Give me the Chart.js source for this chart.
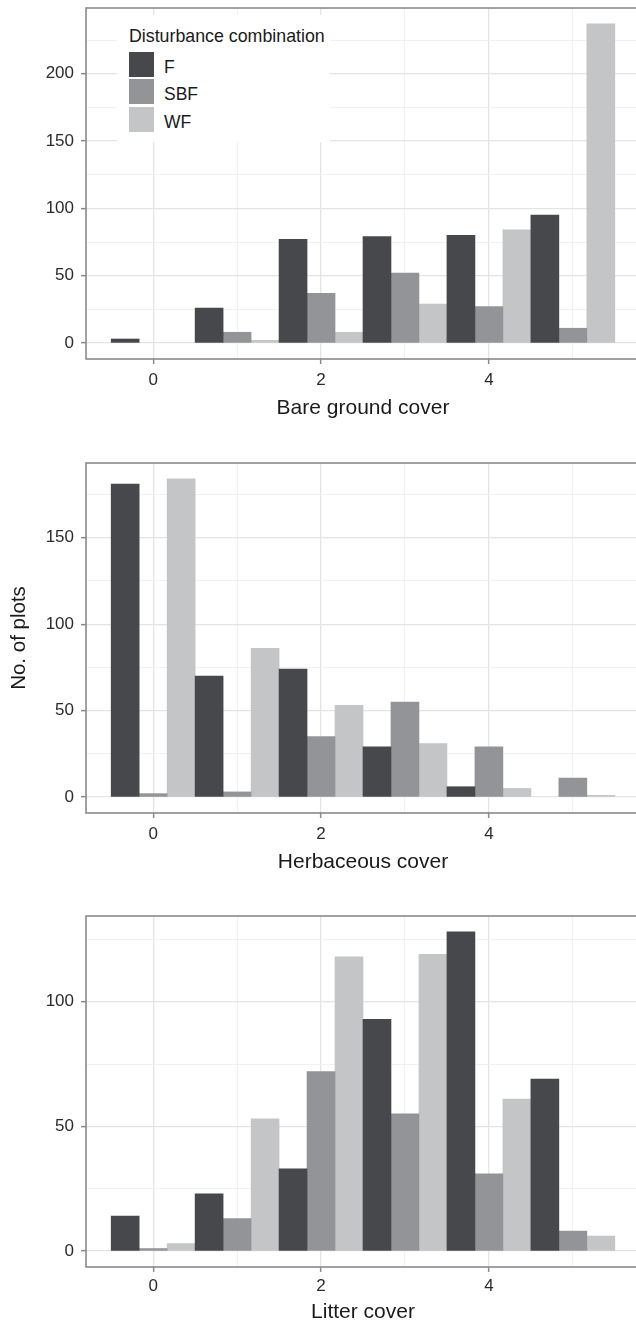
<!DOCTYPE html>
<html>
<head>
<meta charset="utf-8">
<script src="https://cdn.jsdelivr.net/npm/chart.js@4.4.1/dist/chart.umd.min.js"></script>
<style>
  html, body { margin:0; padding:0; background:#fff; width:636px; height:1326px; overflow:hidden; position:relative;
    font-family:"Liberation Sans", Arial, Helvetica, sans-serif; }
  canvas.panel { position:absolute; left:0; }
  #legend { position:absolute; left:117px; top:15px; width:213px; height:127px; background:#fff; }
  #legend .t { position:absolute; left:12px; top:12.6px; font-size:17.8px; line-height:17.8px; color:#1a1a1a; white-space:nowrap; }
  #legend .k { position:absolute; left:12px; width:25px; height:25px; }
  #legend .l { position:absolute; left:47px; font-size:17.5px; line-height:17.5px; color:#1a1a1a; white-space:nowrap; }
</style>
</head>
<body>
<canvas id="c1" class="panel" width="660" height="421" style="top:0px"></canvas>
<canvas id="c2" class="panel" width="660" height="420" style="top:455px"></canvas>
<canvas id="c3" class="panel" width="660" height="417" style="top:908px"></canvas>
<div id="legend"></div>
<script>
// ---------- data ----------
const bins = [0, 1, 2, 3, 4, 5];
const seriesNames = ['F', 'SBF', 'WF'];
const seriesColors = ['#47484b', '#939497', '#c4c5c7'];
const legendTitle = 'Disturbance combination';

const bareF   = [3, 26, 77, 79, 80, 95];
const bareSBF = [0, 8, 37, 52, 27, 11];
const bareWF  = [0, 2, 8, 29, 84, 237];

const herbF   = [181, 70, 74, 29, 6, 0];
const herbSBF = [2, 3, 35, 55, 29, 11];
const herbWF  = [184, 86, 53, 31, 5, 1];

const litterF   = [14, 23, 33, 93, 128, 69];
const litterSBF = [1, 13, 72, 55, 31, 8];
const litterWF  = [3, 53, 118, 119, 61, 6];

const xTickValues = [0, 2, 4];
const bareYTicks   = [0, 50, 100, 150, 200];
const herbYTicks   = [0, 50, 100, 150];
const litterYTicks = [0, 50, 100];

const yTitle = 'No. of plots';
const xTitles = ['Bare ground cover', 'Herbaceous cover', 'Litter cover'];

// ---------- styling ----------
const FONT = '"Liberation Sans", Arial, Helvetica, sans-serif';
const majorGrid = '#e4e4e4', minorGrid = '#efefef', borderCol = '#8a8a8a';

const panelBorder = {
  id: 'panelBorder',
  afterDatasetsDraw(chart) {
    const { ctx, chartArea: a } = chart;
    ctx.save();
    ctx.strokeStyle = borderCol;
    ctx.lineWidth = 1.6;
    ctx.strokeRect(a.left, a.top, a.right - a.left, a.bottom - a.top);
    ctx.restore();
  }
};

function makeChart(id, xTitle, series, yTicks, opt) {
  const maxV = Math.max(...series.flat());
  const yMin = -0.05 * maxV, yMax = 1.05 * maxV;
  const step = yTicks[1] - yTicks[0];
  const yAll = [];
  for (let v = yTicks[0]; v <= yMax; v += step / 2) yAll.push(v);
  const xAll = bins.slice();
  const xMin = bins[0] - 0.8, xMax = bins[bins.length - 1] + 0.8;

  return new Chart(document.getElementById(id), {
    type: 'bar',
    data: {
      labels: bins,
      datasets: series.map((d, i) => ({
        label: seriesNames[i],
        data: d,
        backgroundColor: seriesColors[i],
        borderWidth: 0,
        inflateAmount: c => (c.raw === 0 ? 0 : 'auto'),
        categoryPercentage: 1,
        barPercentage: 1
      }))
    },
    options: {
      responsive: false,
      animation: false,
      devicePixelRatio: 1,
      layout: { padding: { top: 8, right: 20, left: 0, bottom: 0 } },
      plugins: { legend: { display: false }, tooltip: { enabled: false } },
      scales: {
        x: {
          type: 'linear', min: xMin, max: xMax, offset: false,
          afterBuildTicks: s => { s.ticks = xAll.map(v => ({ value: v })); },
          afterFit: s => { s.height = opt.xH; s.paddingLeft = 0; s.paddingRight = 0; },
          grid: {
            offset: false,
            color: c => xTickValues.includes(c.tick && c.tick.value) ? majorGrid : minorGrid,
            lineWidth: c => xTickValues.includes(c.tick && c.tick.value) ? 1.3 : 0.9,
            tickColor: c => xTickValues.includes(c.tick && c.tick.value) ? borderCol : 'rgba(0,0,0,0)',
            tickWidth: 1.5,
            tickLength: 5
          },
          border: { display: false },
          ticks: {
            autoSkip: false, maxRotation: 0, padding: opt.tickPad,
            color: '#2b2b2b', font: { family: FONT, size: 17 },
            callback: v => xTickValues.includes(v) ? String(v) : ''
          },
          title: { display: true, text: xTitle, color: '#1a1a1a', font: { family: FONT, size: 21 },
                   padding: { top: 0, bottom: opt.titlePad } }
        },
        y: {
          min: yMin, max: yMax,
          afterBuildTicks: s => { s.ticks = yAll.map(v => ({ value: v })); },
          afterFit: s => { s.width = 86; s.paddingTop = 0; s.paddingBottom = 0; },
          grid: {
            color: c => yTicks.includes(c.tick && c.tick.value) ? majorGrid : minorGrid,
            lineWidth: c => yTicks.includes(c.tick && c.tick.value) ? 1.3 : 0.9,
            tickColor: c => yTicks.includes(c.tick && c.tick.value) ? borderCol : 'rgba(0,0,0,0)',
            tickWidth: 1.5,
            tickLength: 5
          },
          border: { display: false },
          ticks: {
            autoSkip: false, padding: 7,
            color: '#2b2b2b', font: { family: FONT, size: 17 },
            callback: v => yTicks.includes(v) ? String(v) : ''
          },
          title: { display: !!opt.yTitle, text: opt.yTitle || '', color: '#1a1a1a',
                   font: { family: FONT, size: 20.5 }, padding: { top: 7, bottom: 0 } }
        }
      }
    },
    plugins: [panelBorder]
  });
}

makeChart('c1', xTitles[0], [bareF, bareSBF, bareWF], bareYTicks, { xH: 62, tickPad: 6, titlePad: 0 });
makeChart('c2', xTitles[1], [herbF, herbSBF, herbWF], herbYTicks, { xH: 62, tickPad: 6, titlePad: 0, yTitle: yTitle });
makeChart('c3', xTitles[2], [litterF, litterSBF, litterWF], litterYTicks, { xH: 58, tickPad: 4, titlePad: 0 });

// ---------- legend (HTML, real text) ----------
const lg = document.getElementById('legend');
const t = document.createElement('div');
t.className = 't'; t.textContent = legendTitle; lg.appendChild(t);
const keyTops = [36.7, 64.2, 91.7];
seriesNames.forEach((n, i) => {
  const k = document.createElement('div');
  k.className = 'k'; k.style.top = keyTops[i] + 'px'; k.style.background = seriesColors[i];
  lg.appendChild(k);
  const l = document.createElement('div');
  l.className = 'l'; l.style.top = (keyTops[i] + 7) + 'px'; l.textContent = n;
  lg.appendChild(l);
});
</script>
</body>
</html>
